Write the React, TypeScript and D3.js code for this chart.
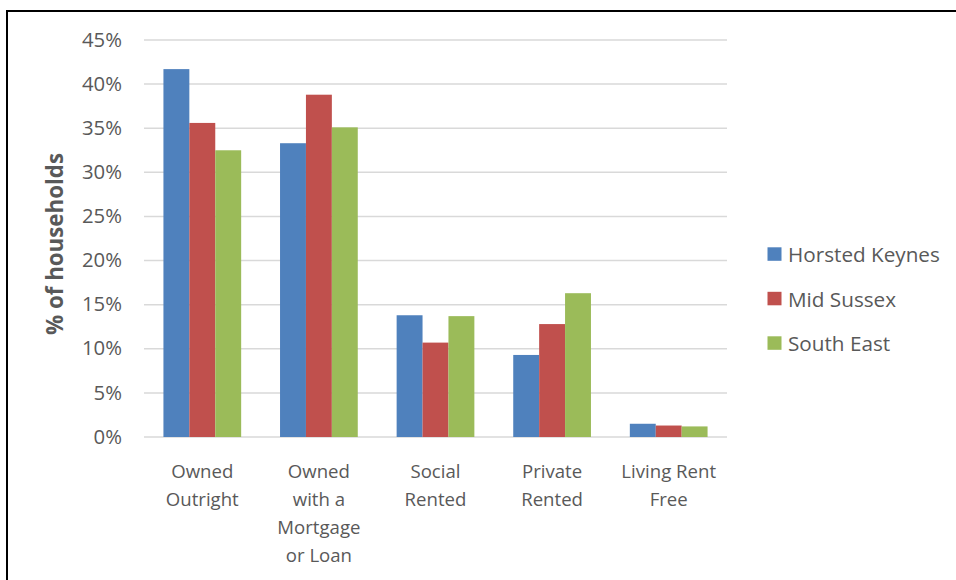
import React from "react";
import * as d3 from "d3";

const categories = ["Owned Outright", "Owned with a Mortgage or Loan", "Social Rented", "Private Rented", "Living Rent Free"];
const categoryLines = [["Owned", "Outright"], ["Owned", "with a", "Mortgage", "or Loan"], ["Social", "Rented"], ["Private", "Rented"], ["Living Rent", "Free"]];
const seriesNames = ["Horsted Keynes", "Mid Sussex", "South East"];
const horstedKeynes = [41.7, 33.3, 13.8, 9.3, 1.5];
const midSussex = [35.6, 38.8, 10.7, 12.8, 1.3];
const southEast = [32.5, 35.1, 13.7, 16.3, 1.2];
const yTicks = [0, 5, 10, 15, 20, 25, 30, 35, 40, 45];
const colors = ["#4F81BD", "#C0504D", "#9BBB59"];

export default function App() {
  const W = 956, H = 580;
  const series = [horstedKeynes, midSussex, southEast];
  const x = d3.scaleBand<string>().domain(categories).range([144, 727]).paddingInner(0).paddingOuter(0);
  const y = d3.scaleLinear().domain([0, 45]).range([437, 40]);
  const bw = x.bandwidth();
  const barW = bw / 4.5;
  const inner = d3.scaleBand<string>().domain(seriesNames).range([bw * 0.75 / 4.5, bw - bw * 0.75 / 4.5]);
  const font = "'Open Sans', sans-serif";
  return (
    <svg width={W} height={H} style={{ position: "absolute", left: 0, top: 0 }} fontFamily={font}>
      <rect x={0} y={0} width={W} height={H} fill="#fff" />
      <rect x={7} y={11} width={W + 10} height={H + 10} fill="none" stroke="#000" strokeWidth={2} />
      {yTicks.map((t) => (
        <g key={t}>
          <line x1={144} x2={727} y1={y(t)} y2={y(t)} stroke="#D9D9D9" strokeWidth={1.5} />
          <text x={122} y={y(t) + 6.7} textAnchor="end" fontSize={20.3} fill="#595959">{t}%</text>
        </g>
      ))}
      {series.map((vals, si) =>
        vals.map((v, ci) => (
          <rect key={si + "-" + ci} x={(x(categories[ci]) as number) + (inner(seriesNames[si]) as number)} y={y(v)} width={barW} height={y(0) - y(v)} fill={colors[si]} />
        ))
      )}
      {categoryLines.map((lines, ci) => (
        <text key={ci} textAnchor="middle" fontSize={18.6} fill="#595959">
          {lines.map((l, li) => (
            <tspan key={li} x={(x(categories[ci]) as number) + bw / 2} y={477.5 + li * 28.2}>{l}</tspan>
          ))}
        </text>
      ))}
      <text transform={`translate(63,244) rotate(-90)`} textAnchor="middle" fontSize={22.3} fontWeight="bold" fill="#595959">% of households</text>
      {seriesNames.map((n, i) => (
        <g key={n}>
          <rect x={767.5} y={247.3 + i * 44.5} width={14} height={13.5} fill={colors[i]} />
          <text x={788} y={262 + i * 44.5} fontSize={20.7} fill="#595959">{n}</text>
        </g>
      ))}
    </svg>
  );
}
